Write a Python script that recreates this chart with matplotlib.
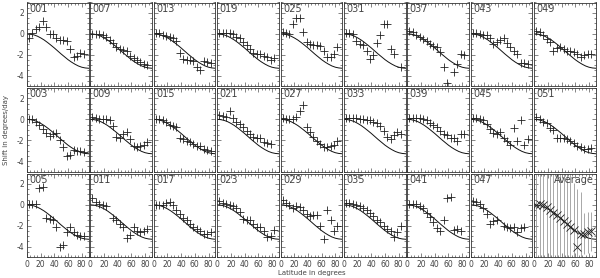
import numpy as np
import matplotlib
matplotlib.use("Agg")
import matplotlib.pyplot as plt
from matplotlib.ticker import MultipleLocator

nan = float("nan")

# latitude of the measured points (degrees)
lat_pts = [3, 8, 13, 18, 23, 28, 33, 38, 43, 48, 53, 58, 63, 68, 73, 78, 83]

# model differential rotation curve
model_lat = [0, 5, 10, 15, 20, 25, 30, 35, 40, 45, 50, 55, 60, 65, 70, 75, 80, 85, 90]
model_shift = [0.0, -0.03, -0.10, -0.22, -0.39, -0.59, -0.83, -1.09, -1.36, -1.65,
               -1.94, -2.21, -2.48, -2.71, -2.91, -3.08, -3.20, -3.27, -3.30]

# measured shifts per data set (degrees/day)
shift_001 = [-0.4, 0.05, 0.5, 0.7, 1.2, 0.7, 0.0, 0.0, -0.4, -0.6, -0.6, -0.7, -1.45, -2.25, -2.1, -1.8, -1.95]
shift_007 = [0.0, 0.0, 0.0, -0.1, -0.3, -0.55, -0.9, -1.3, -1.5, -1.55, -1.6, -2.1, -2.3, -2.5, -2.7, -2.9, -3.0]
shift_013 = [0.1, 0.05, -0.15, -0.25, -0.3, -0.4, -0.65, -1.8, -2.4, -2.5, -2.5, -2.6, -3.2, -3.5, -2.6, -2.7, -2.8]
shift_019 = [0.1, 0.1, 0.1, 0.05, 0.0, -0.26, -0.4, -0.8, -1.1, -1.5, -1.8, -1.9, -1.9, -2.1, -2.25, -2.5, -2.3]
shift_025 = [0.15, 0.05, 0.0, 0.95, 1.55, 1.55, 0.15, -0.8, -0.95, -1.05, -1.1, -1.15, -1.6, -2.25, -2.25, -1.9, -1.3]
shift_031 = [0.1, 0.1, 0.0, -0.7, -0.95, -1.1, -1.6, -2.4, -2.0, -0.9, -0.1, 0.95, 0.9, -1.45, -1.95, nan, -3.2]
shift_037 = [0.25, 0.15, -0.15, -0.3, -0.45, -0.7, -0.95, -1.15, -1.3, -1.75, -3.2, -4.7, nan, -3.7, -2.9, -1.95, -2.0]
shift_043 = [0.1, 0.1, 0.0, -0.1, -0.15, -0.4, -0.95, -0.8, -0.6, -0.4, -0.85, -1.3, -1.6, -1.9, -2.75, -2.75, -2.85]
shift_049 = [0.3, 0.15, -0.15, -0.5, -0.8, -1.6, -1.35, -1.3, -1.45, -1.6, -1.6, -1.75, -1.95, -2.25, -2.0, -1.95, -1.95]

shift_003 = [0.05, 0.0, -0.3, -0.5, -0.9, -1.35, -1.6, -1.4, -1.3, -2.0, -2.7, -3.5, -3.4, -2.9, -3.0, -3.05, -3.1]
shift_009 = [0.25, 0.15, 0.0, 0.0, 0.0, -0.1, -0.6, -1.65, -1.75, -1.4, -1.25, -1.9, -2.55, -2.65, -2.6, -2.45, -2.2]
shift_015 = [0.05, 0.0, -0.1, -0.25, -0.5, -0.6, -0.75, -1.75, -1.9, -2.05, -2.2, -2.4, -2.55, -2.6, -2.8, -2.9, -3.0]
shift_021 = [0.4, 0.3, 0.25, 0.8, 0.1, -0.25, -0.45, -0.75, -1.1, -1.4, -1.65, -1.75, -1.8, -2.2, -2.25, -2.4, nan]
shift_027 = [0.15, 0.05, 0.05, 0.05, 0.2, 0.75, 1.35, -0.75, -1.2, -1.7, -2.05, -2.4, -2.65, -2.65, -2.55, -2.45, -2.1]
shift_033 = [0.15, 0.15, 0.15, 0.1, 0.05, 0.0, -0.1, -0.1, -0.25, -0.35, -0.6, -1.1, -1.65, -1.9, -1.55, -1.25, -1.4]
shift_039 = [0.15, 0.15, 0.15, 0.15, 0.05, -0.1, -0.35, -0.5, -0.7, -1.1, -1.4, -1.55, -1.75, -1.75, -2.05, -1.4, -1.4]
shift_045 = [0.15, 0.15, 0.05, -0.1, -0.45, -0.9, -1.35, -1.4, -1.25, -1.75, -2.1, -2.45, -0.8, -2.05, -0.1, -2.45, -1.9]
shift_051 = [0.25, 0.05, -0.25, -0.4, -0.8, -1.05, -1.75, -1.75, -1.75, -1.9, -2.1, -2.3, -2.55, -2.7, -2.8, -2.85, -2.75]

shift_005 = [0.1, 0.1, 0.1, 1.65, 1.7, -1.3, -1.4, -1.45, -2.15, -4.0, -3.85, -2.65, -2.15, -2.65, -2.85, -3.0, -3.0]
shift_011 = [0.65, 0.3, 0.1, 0.0, -0.15, nan, -1.3, -1.5, -1.8, -2.15, -3.15, -2.85, -2.15, -2.5, -2.6, -2.5, -2.3]
shift_017 = [0.0, 0.0, 0.0, 0.15, 0.25, 0.0, -0.5, -0.85, -1.25, -1.5, -1.85, -2.1, -2.35, -2.55, -2.75, -2.8, -2.65]
shift_023 = [0.35, 0.15, 0.1, 0.0, -0.15, -0.35, -0.65, -1.35, -1.5, -1.5, -1.85, -2.1, -2.15, -2.5, -3.1, -3.0, -2.45]
shift_029 = [0.5, 0.15, 0.0, -0.35, -0.15, -0.2, -0.5, -0.9, -1.1, -1.0, -1.0, -2.0, -3.25, -0.5, -1.5, -2.5, -2.0]
shift_035 = [0.15, 0.15, 0.1, 0.0, -0.15, -0.35, -0.5, -0.75, -1.1, -1.45, -1.65, -2.0, -2.35, -2.5, -3.1, -2.65, -2.0]
shift_041 = [0.1, 0.1, 0.05, -0.1, -0.3, -0.8, -1.15, -1.65, -2.25, -2.5, -1.5, 0.65, 0.75, -2.45, -2.35, -2.5, nan]
shift_047 = [0.35, 0.25, 0.1, -0.3, -0.9, -1.85, -1.55, -1.5, nan, -2.0, -2.15, -2.25, -2.1, -2.65, -2.25, -2.15, nan]

# average over all data sets, with scatter
avg_shift = [0.0, 0.05, -0.05, -0.2, -0.45, -0.75, -1.0, -1.3, -1.55, -1.8, -2.1, -2.45, -4.0, -2.8, -2.75, -2.65, -2.55]
avg_err = [5.5, 5.5, 5.5, 5.5, 5.5, 5.5, 5.5, 5.5, 5.5, 5.5, 5.5, 4.5, 5.5, 4.0, 2.0, 2.0, 1.9]

grid = [
    [("001", shift_001), ("007", shift_007), ("013", shift_013), ("019", shift_019), ("025", shift_025),
     ("031", shift_031), ("037", shift_037), ("043", shift_043), ("049", shift_049)],
    [("003", shift_003), ("009", shift_009), ("015", shift_015), ("021", shift_021), ("027", shift_027),
     ("033", shift_033), ("039", shift_039), ("045", shift_045), ("051", shift_051)],
    [("005", shift_005), ("011", shift_011), ("017", shift_017), ("023", shift_023), ("029", shift_029),
     ("035", shift_035), ("041", shift_041), ("047", shift_047), ("Average", None)],
]

plt.rcParams["axes.unicode_minus"] = False
TEXT = "#444444"
W, H = 600, 278

fig = plt.figure(figsize=(6.0, 2.78), dpi=100)

for r, row in enumerate(grid):
    for c, (label, vals) in enumerate(row):
        x0 = 27 + c * 63.4
        y0 = 2.5 + r * 85.5
        ax = fig.add_axes([x0 / W, 1 - (y0 + 83.5) / H, 61.6 / W, 83.5 / H])
        ax.plot(model_lat, model_shift, color="#111111", lw=0.7)
        if vals is None:
            ax.errorbar(lat_pts, avg_shift, yerr=avg_err, fmt="x", ms=5.5, mew=0.6,
                        color="#222222", ecolor="#9a9a9a", elinewidth=0.6, capsize=0)
            ax.text(0.32, 0.985, label, transform=ax.transAxes, ha="left", va="top",
                    fontsize=7, color=TEXT)
        else:
            ax.plot(lat_pts, vals, ls="none", marker="+", ms=6, mew=0.6, color="#222222")
            ax.text(0.04, 0.985, label, transform=ax.transAxes, ha="left", va="top",
                    fontsize=7, color=TEXT)
        ax.set_xlim(0, 90)
        ax.set_ylim(-5, 3)
        ax.xaxis.set_major_locator(MultipleLocator(20))
        ax.xaxis.set_minor_locator(MultipleLocator(5))
        ax.yaxis.set_major_locator(MultipleLocator(2))
        ax.yaxis.set_minor_locator(MultipleLocator(0.5))
        ax.tick_params(which="both", direction="in", top=True, right=True,
                       width=0.5, color="#555555", labelsize=5.5, labelcolor=TEXT, pad=2)
        ax.tick_params(which="major", length=3)
        ax.tick_params(which="minor", length=1.5)
        for s in ax.spines.values():
            s.set_linewidth(0.6)
            s.set_color("#333333")
        if c != 0:
            ax.set_yticklabels([])
        if r != 2:
            ax.set_xticklabels([])

fig.text(6 / W, 1 - 130 / H, "Shift in degrees/day", rotation=90, ha="center", va="center",
         fontsize=5, color=TEXT)
fig.text(312 / W, 1 - 273 / H, "Latitude in degrees", ha="center", va="center",
         fontsize=5, color=TEXT)

fig.savefig("out.png", dpi=100)
